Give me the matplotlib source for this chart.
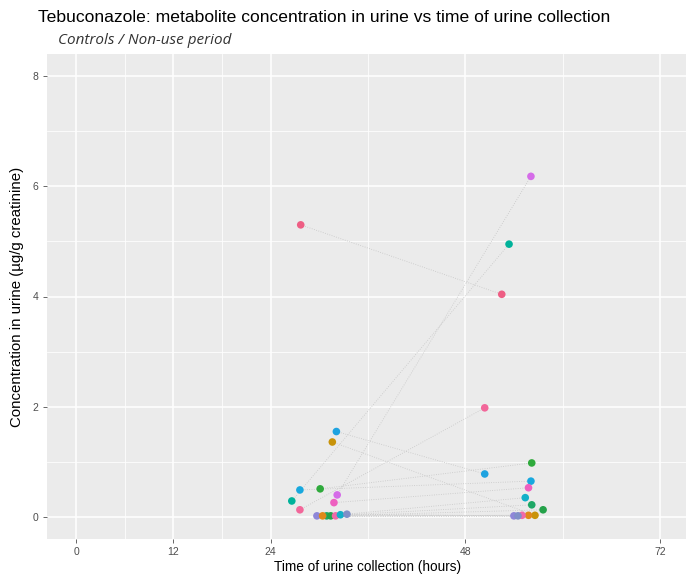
import matplotlib
matplotlib.use("Agg")
import matplotlib.pyplot as plt
from matplotlib.ticker import FixedLocator

# ---- data ----
subjects = ["A", "B", "C", "D", "E", "F", "G", "H", "I", "K", "L", "M", "N", "P", "Q", "R"]
time_first = [27.7, 27.6, 32.2, 26.6, 32.1, 31.6, 30.1, 27.6, 31.8, 30.9, 31.4, 29.7, 30.4, 32.0, 32.6, 33.4]
conc_first = [5.30, 0.13, 0.40, 0.29, 1.55, 1.36, 0.51, 0.49, 0.26, 0.02, 0.02, 0.02, 0.02, 0.02, 0.04, 0.05]
time_second = [52.5, 50.4, 56.1, 53.4, 50.4, 56.6, 56.2, 56.1, 55.8, 56.2, 57.6, 54.0, 55.8, 55.0, 55.4, 54.5]
conc_second = [4.04, 1.98, 6.18, 4.95, 0.78, 0.03, 0.98, 0.65, 0.53, 0.22, 0.13, 0.02, 0.03, 0.03, 0.35, 0.02]
point_colors = ["#EE5E84", "#F2679A", "#D56CE8", "#00B29A", "#1FA3E0", "#C8930A",
                "#2FAA3C", "#18A8DE", "#EE60C0", "#1FA866", "#25A24A", "#8E86D8",
                "#E0891A", "#F06AA8", "#12B0C8", "#7F8FC8"]

x_ticks = [0, 12, 24, 48, 72]
x_minor = [6, 18, 36, 60]
y_ticks = [0, 2, 4, 6, 8]
y_minor = [1, 3, 5, 7]

title = "Tebuconazole: metabolite concentration in urine vs time of urine collection"
subtitle = "Controls / Non-use period"
xlabel = "Time of urine collection (hours)"
ylabel = "Concentration in urine (µg/g creatinine)"

plt.rcParams['font.family'] = ['Liberation Sans', 'DejaVu Sans']

fig = plt.figure(figsize=(6.86, 5.79), dpi=100)
fig.patch.set_facecolor("white")
ax = fig.add_axes([47/686, 1 - 539/579, 642/686, 485/579])
ax.set_facecolor("#EBEBEB")

ax.set_xlim(-3.6, 75.6)
ax.set_ylim(-0.4, 8.4)

ax.xaxis.set_major_locator(FixedLocator(x_ticks))
ax.xaxis.set_minor_locator(FixedLocator(x_minor))
ax.yaxis.set_major_locator(FixedLocator(y_ticks))
ax.yaxis.set_minor_locator(FixedLocator(y_minor))
ax.set_xticklabels([str(v) for v in x_ticks])
ax.set_yticklabels([str(v) for v in y_ticks])

ax.grid(which="major", color="white", linewidth=1.1)
ax.grid(which="minor", color="white", linewidth=0.55)
ax.set_axisbelow(True)
for s in ax.spines.values():
    s.set_visible(False)

ax.tick_params(which="major", length=3, color="#4D4D4D", width=0.6,
               labelsize=7.5, labelcolor="#4D4D4D", pad=3)
ax.tick_params(which="minor", length=0)

# connecting dotted lines
for t1, c1, t2, c2 in zip(time_first, conc_first, time_second, conc_second):
    ax.plot([t1, t2], [c1, c2], color="#C6C6C6", linewidth=0.6,
            linestyle=(0, (1, 1.8)), zorder=2)

# points
ax.scatter(time_first, conc_first, s=30, c=point_colors, edgecolors="none", zorder=3)
ax.scatter(time_second, conc_second, s=30, c=point_colors, edgecolors="none", zorder=3)

ax.set_xlabel(xlabel, fontsize=9.8, color="black", labelpad=2)
ax.set_ylabel(ylabel, fontsize=10.8, color="black", labelpad=6)

fig.text(38/686, 1 - 18/579, title, fontsize=12.6, ha="left", va="center", color="black")
fig.text(58/686, 1 - 40/579, subtitle, fontsize=11, ha="left", va="center",
         style="italic", color="#333333", family=["Open Sans", "DejaVu Sans"])

fig.savefig("out.png", dpi=100)
